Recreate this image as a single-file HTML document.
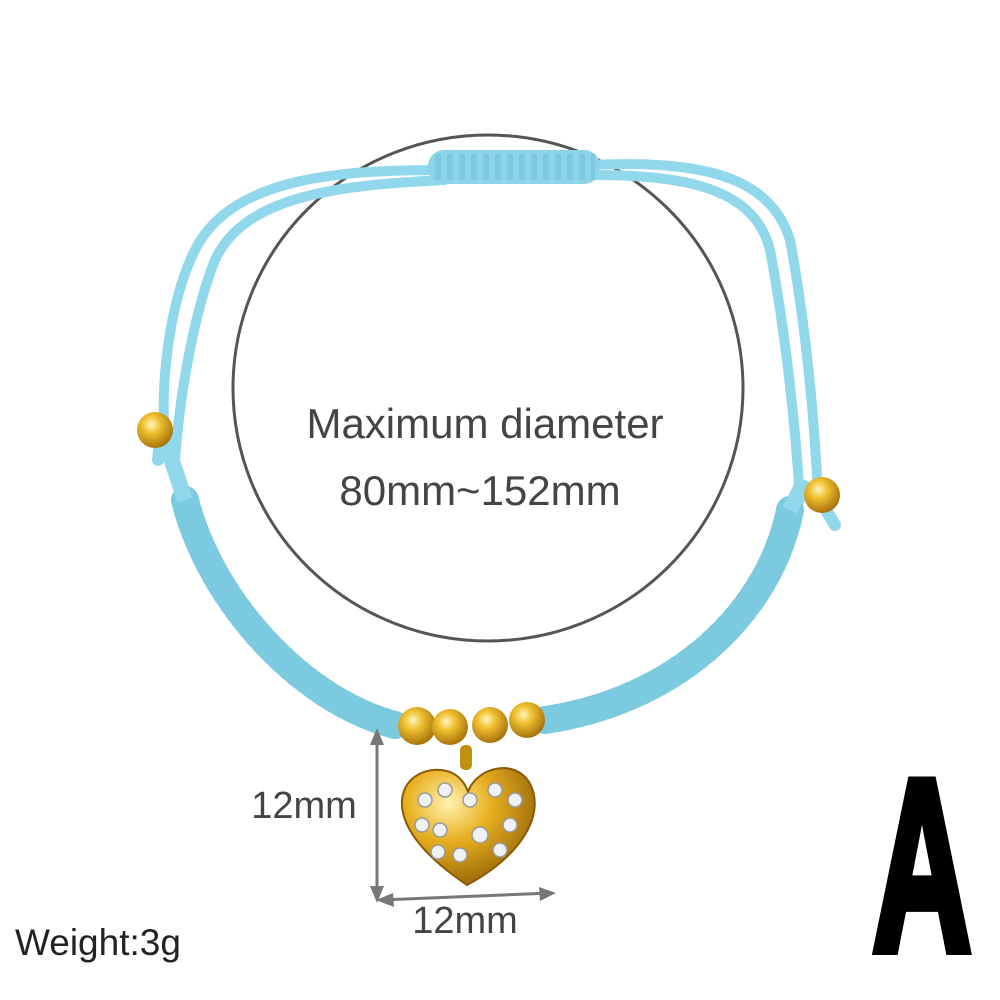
<!DOCTYPE html>
<html><head><meta charset="utf-8"><style>
html,body{margin:0;padding:0;background:#fff;}
svg{display:block}
text{font-family:"Liberation Sans",sans-serif;}
</style></head><body>
<svg width="1000" height="1000" viewBox="0 0 1000 1000" xmlns="http://www.w3.org/2000/svg">
<defs>
<radialGradient id="gold" cx="0.4" cy="0.35" r="0.7">
<stop offset="0" stop-color="#fff6c0"/><stop offset="0.35" stop-color="#f0c030"/><stop offset="1" stop-color="#a06a08"/>
</radialGradient>
<radialGradient id="heartg" cx="0.35" cy="0.3" r="0.8">
<stop offset="0" stop-color="#fff3b0"/><stop offset="0.4" stop-color="#e8b020"/><stop offset="1" stop-color="#8a5a05"/>
</radialGradient>
</defs>
<ellipse cx="488" cy="388" rx="255" ry="253" fill="none" stroke="#555" stroke-width="3"/>
<text x="485" y="438" font-size="42" fill="#444" text-anchor="middle">Maximum diameter</text>
<text x="480" y="505" font-size="42" fill="#444" text-anchor="middle">80mm~152mm</text>
<g fill="none" stroke="#92d8ec" stroke-linecap="round">
<path d="M440 170 C330 170 230 180 195 250 C170 300 160 380 165 440" stroke-width="10"/>
<path d="M445 180 C340 185 245 195 215 260 C195 310 180 390 175 460" stroke-width="10"/>
<path d="M590 165 C700 160 770 175 790 240 C805 320 815 420 818 500" stroke-width="10"/>
<path d="M595 175 C690 175 755 190 770 250 C785 330 795 420 800 500" stroke-width="10"/>
<path d="M160 440 L158 460" stroke-width="12"/>
<path d="M820 500 L835 525" stroke-width="12"/>
</g>
<path d="M185 500 C210 600 300 700 395 725" fill="none" stroke="#8dd4e8" stroke-width="28" stroke-linecap="round" stroke-dasharray="7 4"/>
<path d="M185 500 C210 600 300 700 395 725" fill="none" stroke="#6cc0d8" stroke-width="28" stroke-linecap="round" stroke-dasharray="2 9" opacity="0.5"/>
<path d="M790 510 C770 610 680 700 545 720" fill="none" stroke="#8dd4e8" stroke-width="28" stroke-linecap="round" stroke-dasharray="7 4"/>
<path d="M790 510 C770 610 680 700 545 720" fill="none" stroke="#6cc0d8" stroke-width="28" stroke-linecap="round" stroke-dasharray="2 9" opacity="0.5"/>
<path d="M165 440 L185 500" stroke="#92d8ec" stroke-width="16" fill="none"/>
<path d="M805 480 L790 510" stroke="#92d8ec" stroke-width="16" fill="none"/>
<rect x="428" y="150" width="172" height="34" rx="16" fill="#8dd4e8"/>
<path d="M435 167 H595" stroke="#6cc0d8" stroke-width="26" stroke-dasharray="6 6" opacity="0.5"/>
<circle cx="155" cy="430" r="18" fill="url(#gold)"/>
<circle cx="822" cy="495" r="18" fill="url(#gold)"/>
<circle cx="417" cy="726" r="19" fill="url(#gold)"/>
<circle cx="450" cy="727" r="18" fill="url(#gold)"/>
<circle cx="490" cy="725" r="18" fill="url(#gold)"/>
<circle cx="527" cy="720" r="18" fill="url(#gold)"/>
<rect x="460" y="745" width="12" height="25" rx="5" fill="#c0900f"/>
<path d="M467 885 C430 860 400 830 402 800 C404 775 430 765 450 772 C460 776 466 785 468 792 C472 780 485 768 505 768 C530 770 540 795 532 820 C522 848 495 870 467 885 Z" fill="url(#heartg)" stroke="#8a5a05" stroke-width="2"/>
<g fill="#eef2f5" stroke="#999" stroke-width="1.5">
<circle cx="425" cy="800" r="7"/><circle cx="445" cy="790" r="7"/><circle cx="422" cy="825" r="7"/>
<circle cx="440" cy="830" r="7"/><circle cx="470" cy="800" r="7"/><circle cx="495" cy="790" r="7"/>
<circle cx="515" cy="800" r="7"/><circle cx="480" cy="835" r="8"/><circle cx="510" cy="825" r="7"/>
<circle cx="500" cy="850" r="7"/><circle cx="460" cy="855" r="7"/><circle cx="438" cy="852" r="7"/>
</g>
<g stroke="#777" stroke-width="3" fill="#777">
<line x1="377" y1="735" x2="377" y2="898"/>
<path d="M377 728 L370 745 L384 745 Z" stroke="none"/>
<path d="M377 903 L370 886 L384 886 Z" stroke="none"/>
<line x1="380" y1="900" x2="552" y2="893"/>
<path d="M376 900 L393 893 L394 907 Z" stroke="none"/>
<path d="M556 893 L539 887 L540 901 Z" stroke="none"/>
</g>
<text x="304" y="818" font-size="38" fill="#444" text-anchor="middle">12mm</text>
<text x="465" y="933" font-size="38" fill="#444" text-anchor="middle">12mm</text>
<text x="15" y="955" font-size="37" fill="#222">Weight:3g</text>
<text x="922" y="950" font-size="245" font-weight="bold" fill="#000" stroke="#000" stroke-width="10" stroke-linejoin="miter" text-anchor="middle" transform="translate(922 0) scale(0.56 1) translate(-922 0)">A</text>
</svg>
</body></html>
